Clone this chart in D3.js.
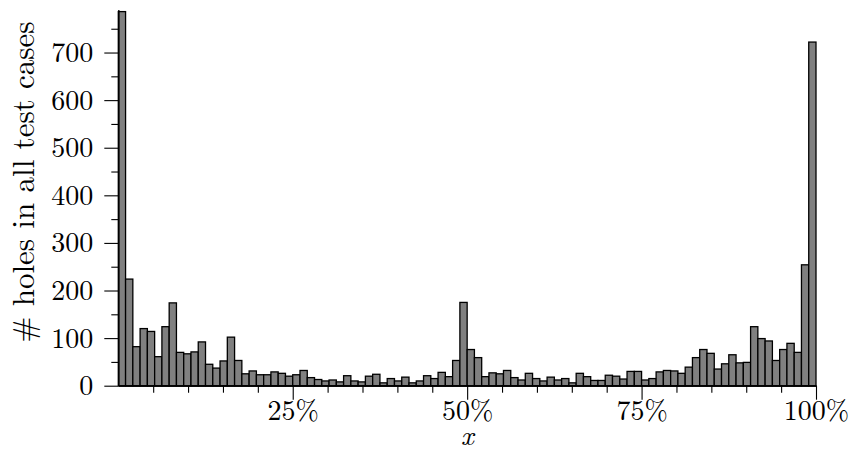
<!DOCTYPE html>
<html>
<head>
<meta charset="utf-8">
<script src="https://cdn.jsdelivr.net/npm/d3@7"></script>
<style>
  body { margin: 0; background: #fff; }
  svg { display: block; }
</style>
</head>
<body>
<svg id="chart" width="853" height="464"></svg>
<script>
// ---- data ----
const binCount = 96;                 // bins spanning 0%..100%
const counts = [
  786, 224, 82, 120, 114, 61, 124, 174, 70, 67, 71, 92,
  45, 37, 52, 102, 53, 25, 31, 23, 23, 29, 26, 20,
  23, 32, 17, 13, 10, 12, 8, 21, 10, 8, 20, 24,
  6, 15, 10, 18, 6, 10, 21, 15, 28, 19, 53, 175,
  76, 59, 19, 27, 25, 32, 17, 12, 26, 15, 10, 18,
  12, 15, 6, 26, 19, 11, 11, 22, 20, 14, 30, 30,
  12, 15, 29, 32, 31, 26, 39, 59, 76, 68, 35, 46,
  65, 48, 49, 124, 99, 94, 53, 76, 89, 70, 254, 722
];
const xMajorTicks = [25, 50, 75, 100];
const xMajorLabels = ["25%", "50%", "75%", "100%"];
const xMinorTicks = [5, 10, 15, 20, 30, 35, 40, 45, 55, 60, 65, 70, 80, 85, 90, 95];
const yMajorTicks = [0, 100, 200, 300, 400, 500, 600, 700];
const yMinorTicks = [50, 150, 250, 350, 450, 550, 650, 750];
const yLabel = "# holes in all test cases";
const xLabel = "x";

const FONT = "Latin Modern Roman";

// ---- layout ----
const svg = d3.select("#chart");
const x = d3.scaleLinear().domain([0, 100]).range([118.3, 816]);
const y = d3.scaleLinear().domain([0, 790]).range([385.7, 9.7]);
const binW = 100 / binCount;

// bars
svg.append("g")
  .selectAll("rect")
  .data(counts)
  .join("rect")
  .attr("x", (d, i) => x(i * binW))
  .attr("y", d => y(d))
  .attr("width", (d, i) => x((i + 1) * binW) - x(i * binW))
  .attr("height", d => y(0) - y(d))
  .attr("fill", "#808080")
  .attr("stroke", "#000")
  .attr("stroke-width", 1.3);

// axes
function styleAxis(g) {
  g.attr("font-family", FONT);
  g.selectAll("path.domain").attr("stroke", "#000").attr("stroke-width", 1.2);
  g.selectAll(".tick line").attr("stroke", "#000").attr("stroke-width", 1.1);
  g.selectAll(".tick text").attr("font-family", FONT).attr("fill", "#000");
}

const xMinor = svg.append("g").attr("transform", `translate(0,${y(0)})`)
  .call(d3.axisBottom(x).tickValues(xMinorTicks).tickSize(7).tickSizeOuter(0).tickFormat(""));
styleAxis(xMinor);
const xMajor = svg.append("g").attr("transform", `translate(0,${y(0)})`)
  .call(d3.axisBottom(x).tickValues(xMajorTicks).tickSize(14).tickSizeOuter(0)
    .tickFormat((d, i) => xMajorLabels[i]));
styleAxis(xMajor);
xMajor.selectAll(".tick text")
  .attr("y", 0).attr("dy", 0)
  .attr("transform", "translate(0,34)")
  .attr("font-size", 28);

const yMinor = svg.append("g").attr("transform", `translate(${x(0)},0)`)
  .call(d3.axisLeft(y).tickValues(yMinorTicks).tickSize(7).tickSizeOuter(0).tickFormat(""));
styleAxis(yMinor);
const yMajor = svg.append("g").attr("transform", `translate(${x(0)},0)`)
  .call(d3.axisLeft(y).tickValues(yMajorTicks).tickSize(14).tickSizeOuter(0));
styleAxis(yMajor);
yMajor.selectAll(".tick text")
  .attr("x", -25).attr("dy", "0.32em")
  .attr("font-size", 28);

// axis labels
svg.append("text")
  .attr("x", x(50)).attr("y", 445)
  .attr("text-anchor", "middle")
  .attr("font-family", FONT)
  .attr("font-size", 28).attr("font-style", "italic")
  .text(xLabel);

svg.append("text")
  .attr("transform", `translate(34,182) rotate(-90)`)
  .attr("text-anchor", "middle")
  .attr("font-family", FONT)
  .attr("font-size", 31)
  .text(yLabel);
</script>
</body>
</html>
